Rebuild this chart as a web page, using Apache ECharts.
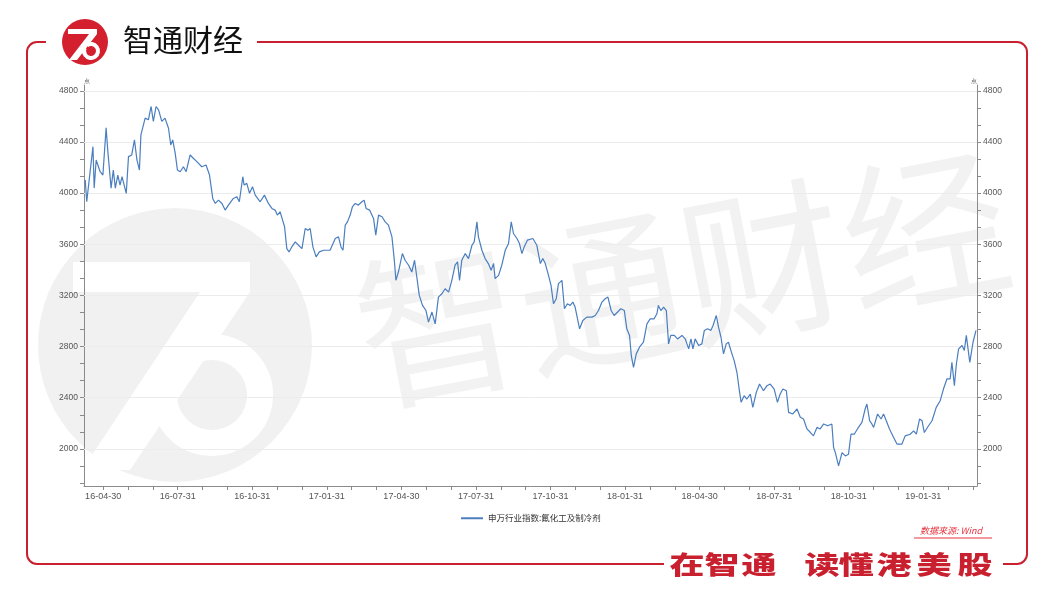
<!DOCTYPE html>
<html>
<head>
<meta charset="utf-8">
<script src="https://cdn.jsdelivr.net/npm/echarts@6/dist/echarts.min.js"></script>
<style>
html,body{margin:0;padding:0;background:#fff;}
#chart{width:1056px;height:600px;}
</style>
</head>
<body>
<div id="chart"></div>
<script>
// x position in months after 2016-04-30 (tick "16-04-30" = 0)
var xMonths = [-0.72,-0.66,-0.41,-0.36,-0.28,-0.12,-0.01,0.12,0.19,0.32,0.41,0.49,0.59,0.68,0.76,0.93,1.02,1.15,1.26,1.36,1.46,1.52,1.69,1.82,1.93,2.02,2.13,2.23,2.36,2.49,2.63,2.72,2.80,2.90,2.99,3.10,3.23,3.34,3.50,3.63,3.77,3.97,4.14,4.28,4.41,4.51,4.64,4.78,4.91,5.04,5.24,5.38,5.48,
5.62,5.67,5.78,5.89,6.01,6.12,6.32,6.49,6.65,6.79,6.92,7.01,7.12,7.22,7.30,7.39,7.48,7.59,7.73,7.86,8.00,8.13,8.24,8.33,8.44,8.57,8.70,8.87,9.13,9.34,9.47,9.57,9.65,9.74,9.83,9.94,10.03,10.14,10.27,10.41,10.50,10.58,10.72,10.88,10.97,11.08,11.22,11.35,11.48,
11.62,11.71,11.78,11.88,12.04,12.15,12.29,12.42,12.53,12.62,12.72,12.85,12.99,13.09,13.23,13.36,13.49,13.63,13.76,13.90,14.03,14.16,14.26,14.34,14.43,14.57,14.70,14.84,14.93,15.04,15.10,15.24,15.37,15.50,15.61,15.71,15.77,15.91,16.04,16.18,16.31,16.42,16.51,16.65,16.75,16.85,16.94,17.07,17.29,
17.45,17.59,17.69,17.79,17.92,18.02,18.12,18.23,18.32,18.46,18.56,18.68,18.79,18.90,18.99,19.17,19.30,19.46,19.67,19.80,19.93,20.07,20.20,20.31,20.44,20.56,20.70,20.83,20.97,21.07,21.18,21.25,21.34,21.45,21.58,21.74,21.88,22.01,22.17,22.28,22.34,22.44,22.55,22.66,22.75,22.84,22.98,23.11,23.29,
23.42,23.56,23.65,23.73,23.82,23.96,24.09,24.19,24.32,24.45,24.54,24.67,24.76,24.86,24.96,25.07,25.16,25.30,25.39,25.50,25.59,25.67,25.79,25.90,26.04,26.14,26.28,26.41,26.57,26.71,26.84,27.00,27.13,27.24,27.35,27.49,27.58,27.75,27.92,28.05,28.18,28.32,28.45,28.58,28.72,28.85,28.99,29.15,29.32,29.39,
29.46,29.59,29.73,29.86,29.99,30.09,30.22,30.35,30.53,30.66,30.73,30.84,30.93,31.00,31.16,31.30,31.40,31.51,31.64,31.80,31.94,32.14,32.27,32.47,32.61,32.72,32.85,32.95,33.04,33.21,33.35,33.52,33.68,33.81,33.95,34.08,34.15,34.25,34.33,34.42,34.56,34.65,34.73,34.87,35.00,35.12];

var indexValues = [4102,3932,4363,4039,4259,4167,4141,4510,4324,4039,4180,4039,4141,4063,4128,3998,4285,4298,4416,4259,4180,4455,4586,4573,4677,4560,4677,4651,4560,4586,4507,4376,4416,4311,4180,4167,4206,4167,4298,4272,4246,4206,4220,4141,3958,3919,3945,3919,3867,3906,3958,3971,3932,
4128,4063,4076,3998,4050,3984,3932,3984,3919,3880,3867,3828,3854,3789,3737,3566,3540,3579,3619,3592,3566,3723,3710,3723,3579,3501,3540,3553,3553,3645,3658,3579,3553,3749,3775,3828,3893,3919,3906,3932,3945,3880,3867,3802,3671,3828,3815,3775,3749,
3658,3488,3318,3383,3527,3475,3436,3383,3475,3344,3200,3122,3082,2991,3070,2978,3187,3213,3252,3226,3318,3436,3462,3318,3475,3527,3488,3592,3619,3775,3658,3553,3488,3449,3396,3449,3331,3357,3436,3553,3605,3775,3684,3645,3605,3527,3579,3632,3645,
3592,3449,3488,3449,3357,3279,3135,3174,3292,3318,3096,3135,3122,3148,3109,2939,3004,3030,3030,3043,3082,3148,3174,3187,3082,3043,3070,3096,3082,2939,2887,2730,2638,2743,2795,2834,2978,3017,3017,3056,3122,3082,3109,3082,2821,2887,2887,2860,2887,
2860,2782,2860,2782,2860,2808,2821,2926,2939,2926,2965,3043,2952,2873,2743,2821,2834,2743,2690,2599,2468,2364,2416,2390,2429,2325,2442,2507,2455,2494,2507,2468,2364,2429,2468,2455,2286,2273,2312,2247,2234,2156,2130,2102,2168,2156,2195,2181,2195,2011,
1971,1867,1971,1945,1958,2115,2115,2156,2207,2312,2351,2220,2195,2168,2273,2234,2273,2220,2156,2091,2038,2038,2102,2115,2141,2115,2234,2220,2128,2181,2220,2325,2377,2468,2547,2547,2677,2494,2664,2782,2808,2769,2887,2677,2834,2926];

var xTickLabels = ['16-04-30','16-07-31','16-10-31','17-01-31','17-04-30','17-07-31','17-10-31','18-01-31','18-04-30','18-07-31','18-10-31','19-01-31'];
var xLabelPos = [0,3,6,9,12,15,18,21,24,27,30,33];
var xMonthTicks = [0,1,2,3,4,5,6,7,8,9,10,11,12,13,14,15,16,17,18,19,20,21,22,23,24,25,26,27,28,29,30,31,32,33,34,35];
var yTicks = [2000,2400,2800,3200,3600,4000,4400,4800];
var seriesName = '申万行业指数:氟化工及制冷剂';

var chart = echarts.init(document.getElementById('chart'), null, {renderer:'canvas'});

var lineData = xMonths.map(function(x,i){return [x, indexValues[i]];});
var yMinor = [];
(function(){
  var step = (yTicks[1]-yTicks[0])/3;
  for (var v = yTicks[0]-2*step; v <= yTicks[yTicks.length-1]+0.1; v += step) yMinor.push(Math.round(v*100)/100);
})();

var RED = '#c9202f';
var axisColor = '#8a8a8a';
var labelColor = '#555';
var font = '"Liberation Sans", Arial, sans-serif';
var PI = Math.PI;

function yAxisCfg(pos){
  return {
    type:'value', position:pos, min:1710, max:4845,
    name:'点', nameGap:1, nameTextStyle:{fontSize:6,color:'#666',align: pos==='left'?'left':'right'},
    axisLine:{show:true,onZero:false,lineStyle:{color:axisColor,width:1}},
    axisTick:{show:true,length:4,customValues:yMinor,lineStyle:{color:axisColor}},
    axisLabel:{customValues:yTicks,color:labelColor,fontSize:8.5,fontFamily:font,margin:6,
      formatter:function(v){return String(Math.round(v));}},
    splitLine:{show:false}
  };
}

function seg(x1,y1,x2,y2){
  return {type:'line', z:100, silent:true, shape:{x1:x1,y1:y1,x2:x2,y2:y2}, style:{stroke:RED,lineWidth:2}};
}
function corner(cx,cy,a0,a1){
  return {type:'arc', z:100, silent:true, shape:{cx:cx,cy:cy,r:10,startAngle:a0,endAngle:a1,clockwise:true}, style:{stroke:RED,lineWidth:2,fill:null}};
}

// slogan characters placed individually (wide display font look)
var sloganChars = ['在','智','通','读','懂','港','美','股'];
var sloganX = [687,722,759,822,856,894,934,975];
var sloganGraphics = sloganChars.map(function(c,i){
  return {type:'text', z:100, silent:true, x:sloganX[i], y:564, scaleX:1.4,
    style:{text:c, fontSize:25, fontWeight:900, fontFamily:'"Noto Sans CJK SC", sans-serif', fill:RED, align:'center', verticalAlign:'middle'}};
});

var option = {
  backgroundColor:'#fff',
  animation:false,
  grid:{left:84,right:79,top:85,bottom:114,containLabel:false},
  xAxis:{
    type:'value', min:-0.77, max:35.16,
    axisLine:{show:true,onZero:false,lineStyle:{color:axisColor,width:1}},
    axisTick:{show:true,length:4,customValues:xMonthTicks,lineStyle:{color:axisColor}},
    axisLabel:{customValues:xLabelPos,color:labelColor,fontSize:9,fontFamily:font,margin:6,
      formatter:function(v){var i=xLabelPos.indexOf(Math.round(v));return i>=0?xTickLabels[i]:'';}},
    splitLine:{show:false}
  },
  yAxis:[yAxisCfg('left'), yAxisCfg('right')],
  legend:{
    show:true, left:456, top:509, itemWidth:22, itemHeight:2, itemGap:4,
    icon:'rect',
    textStyle:{fontSize:8.5,color:'#333',fontFamily:'"Noto Sans CJK SC", sans-serif'},
    data:[seriesName]
  },
  graphic:[
    // watermark circle logo
    {type:'circle', z:-10, shape:{cx:175,cy:345,r:137}, style:{fill:'rgba(0,0,0,0.055)'}, silent:true},
    {type:'polygon', z:-9, shape:{points:[[73,262],[250,262],[250,292],[130,470],[82,470],[200,292],[73,292]]}, style:{fill:'#fff'}, silent:true},
    {type:'arc', z:-9, shape:{cx:212,cy:395,r:48,startAngle:-2.2,endAngle:3.6}, style:{stroke:'#fff',lineWidth:26,fill:null}, silent:true},
    // watermark text
    {type:'text', z:-10, x:682, y:278, rotation:0.19, silent:true,
      style:{text:'智通财经', fontSize:165, fontFamily:'"Noto Sans CJK SC", sans-serif', fill:'rgba(0,0,0,0.05)', align:'center', verticalAlign:'middle'}},
    // frame
    seg(37,42,46,42), corner(37,52,PI,1.5*PI), seg(27,52,27,554), corner(37,554,0.5*PI,PI), seg(37,564,664,564),
    seg(257,42,1017,42), corner(1017,52,-0.5*PI,0), seg(1027,52,1027,554), corner(1017,554,0,0.5*PI), seg(1017,564,1003,564),
    // header logo
    {type:'circle', z:100, silent:true, shape:{cx:85,cy:42,r:23}, style:{fill:'#d4202e'}},
    {type:'polygon', z:101, silent:true, shape:{points:[[68,29],[97,29],[97,34],[77,60],[69,60],[89,34],[68,34]]}, style:{fill:'#fff'}},
    {type:'arc', z:101, silent:true, shape:{cx:91,cy:51,r:7,startAngle:-2.2,endAngle:3.6}, style:{stroke:'#fff',lineWidth:4,fill:null}},
    {type:'text', z:100, silent:true, x:123, y:40,
      style:{text:'智通财经', fontSize:30, fontFamily:'"Noto Sans CJK SC", sans-serif', fill:'#111', verticalAlign:'middle'}},
    // source
    {type:'text', z:100, silent:true, x:920, y:531,
      style:{text:'数据来源: Wind', fontSize:9, fontStyle:'italic', fontFamily:'"Noto Sans CJK SC", sans-serif', fill:'#e8333d', verticalAlign:'middle'}},
    {type:'line', z:100, silent:true, shape:{x1:914,y1:538,x2:992,y2:538}, style:{stroke:'#e8333d',lineWidth:1}}
  ].concat(sloganGraphics),
  series:[{
    name:seriesName, type:'line', xAxisIndex:0, yAxisIndex:0,
    data:lineData, showSymbol:false, symbol:'none',
    lineStyle:{color:'#4a7ebf',width:1.2},
    itemStyle:{color:'#4a7ebf'},
    z:5,
    markLine:{
      silent:true, symbol:'none', animation:false,
      label:{show:false},
      lineStyle:{color:'#ececec',width:1,type:'solid'},
      data:yTicks.map(function(v){return {yAxis:v};})
    }
  }]
};
chart.setOption(option);
</script>
</body>
</html>
